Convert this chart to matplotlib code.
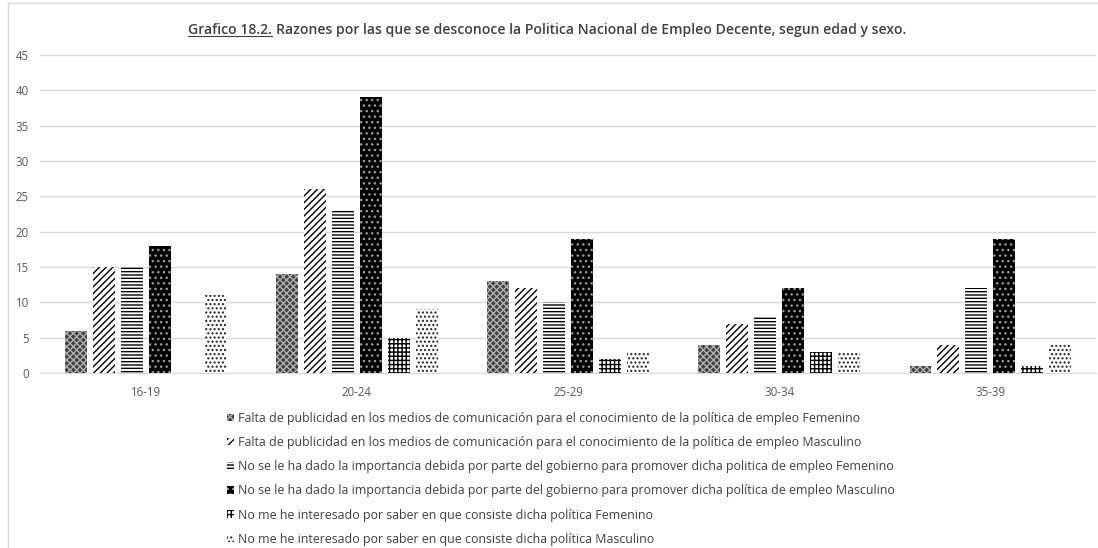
import matplotlib
matplotlib.use("Agg")
import matplotlib.pyplot as plt
import numpy as np
from matplotlib.patches import Patch, Rectangle

categories = ["16-19", "20-24", "25-29", "30-34", "35-39"]
series_labels = [
    "Falta de publicidad en los medios de comunicación para el conocimiento de la política de empleo Femenino",
    "Falta de publicidad en los medios de comunicación para el conocimiento de la política de empleo Masculino",
    "No se le ha dado la importancia debida por parte del gobierno para promover dicha politica de empleo Femenino",
    "No se le ha dado la importancia debida por parte del gobierno para promover dicha política de empleo Masculino",
    "No me he interesado por saber en que consiste dicha política Femenino",
    "No me he interesado por saber en que consiste dicha política Masculino",
]
falta_fem = [6, 14, 13, 4, 1]
falta_mas = [15, 26, 12, 7, 4]
importancia_fem = [15, 23, 10, 8, 12]
importancia_mas = [18, 39, 19, 12, 19]
interes_fem = [0, 5, 2, 3, 1]
interes_mas = [11, 9, 3, 3, 4]
series = [falta_fem, falta_mas, importancia_fem, importancia_mas, interes_fem, interes_mas]

styles = [
    dict(facecolor="#404040", hatch="xxxxx", edgecolor="#b0b0b0"),
    dict(facecolor="white", hatch="/////", edgecolor="black"),
    dict(facecolor="white", hatch="-----", edgecolor="black"),
    dict(facecolor="black", hatch="...", edgecolor="#9a9a9a"),
    dict(facecolor="white", hatch="++++", edgecolor="black"),
    dict(facecolor="white", hatch="....", edgecolor="#202020"),
]

plt.rcParams['font.family'] = ['Open Sans', 'DejaVu Sans']
plt.rcParams['hatch.linewidth'] = 1.0

W, H = 1098, 548
fig = plt.figure(figsize=(W / 100, H / 100), dpi=100)

ax = fig.add_axes([40 / W, (H - 373) / H, (1096 - 40) / W, (373 - 55) / H])
x = np.arange(len(categories))
step = 0.1324
width = 0.104
for i, (vals, st) in enumerate(zip(series, styles)):
    ax.bar(x + (i - 2.5) * step, vals, width, facecolor=st["facecolor"],
           hatch=st["hatch"], edgecolor=st["edgecolor"], linewidth=0,
           label=series_labels[i], zorder=3)

ax.set_xlim(-0.5, len(categories) - 0.5)
ax.set_ylim(0, 45)
ax.set_yticks(range(0, 46, 5))
ax.set_xticks(x)
ax.set_xticklabels(categories)
ax.grid(axis="y", color="#d9d9d9", linewidth=1, zorder=0)
for s in ["top", "right", "left"]:
    ax.spines[s].set_visible(False)
ax.spines["bottom"].set_color("#d9d9d9")
ax.tick_params(axis="both", length=0, labelsize=8.3, colors="#595959", pad=8)
ax.tick_params(axis="x", pad=9)

# chart border (light frame)
fig.add_artist(Rectangle((8 / W, -0.05), 1.2, 1.05 - 3 / H, transform=fig.transFigure,
                         fill=False, edgecolor="#d9d9d9", linewidth=1))

# Title
t1 = fig.text(188 / W, 1 - 30 / H, "Grafico 18.2.", fontsize=10.1, fontweight="semibold",
              color="#404040", va="center", ha="left")
fig.canvas.draw()
bb = t1.get_window_extent()
fig.add_artist(plt.Line2D([bb.x0 / W, bb.x1 / W], [(bb.y0 + 1) / H, (bb.y0 + 1) / H],
                          transform=fig.transFigure, color="#404040", linewidth=0.8))
fig.text(bb.x1 / W + 4 / W, 1 - 30 / H,
         "Razones por las que se desconoce la Politica Nacional de Empleo Decente, segun edad y sexo.",
         fontsize=10.1, fontweight="semibold", color="#404040", va="center", ha="left")

# Legend
handles = [Patch(facecolor=st["facecolor"], hatch=st["hatch"], edgecolor=st["edgecolor"], linewidth=0)
           for st in styles]
fig.legend(handles, series_labels, loc="upper left", bbox_to_anchor=(227 / W, 1 - 412 / H),
           frameon=False, ncol=1, fontsize=8.9, labelcolor="#404040",
           handlelength=0.55, handleheight=0.55, handletextpad=0.35,
           labelspacing=0.9, borderaxespad=0, borderpad=0)

fig.savefig("out.png", dpi=100)
